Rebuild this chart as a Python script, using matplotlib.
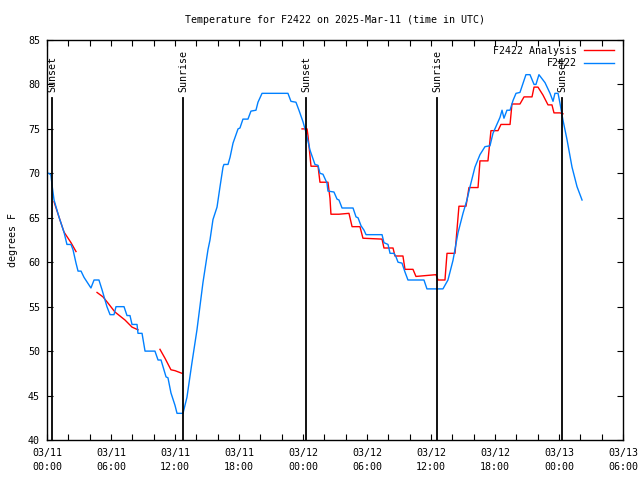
import numpy as np
import matplotlib
matplotlib.use('Agg')
import matplotlib.pyplot as plt
from matplotlib.ticker import MultipleLocator

# hours since 2025-03-11 00:00 UTC
obs_hours = [0.0, 0.19, 0.37, 0.47, 0.66, 1.12, 1.59, 1.87, 2.25, 2.44, 2.72, 2.91, 3.19, 3.47,
             4.12, 4.41, 4.87, 5.16, 5.62, 5.91, 6.28, 6.47, 7.22, 7.50, 7.78, 7.97, 8.44, 8.53,
             8.91, 9.19, 10.12, 10.41, 10.69, 11.16, 11.34, 11.62, 12.0, 12.19, 12.75, 13.12,
             13.59, 14.06, 14.62, 15.09, 15.28, 15.56, 15.94, 16.22, 16.5, 16.59, 16.97, 17.16,
             17.44, 17.91, 18.09, 18.37, 18.84, 19.12, 19.59, 19.78, 20.16, 22.59, 22.87, 23.34,
             23.62, 24.0, 24.28, 24.66, 25.12, 25.41, 25.59, 25.87, 26.25, 26.34, 26.9, 27.19,
             27.37, 27.66, 28.69, 28.97, 29.16, 29.44, 29.72, 29.91, 31.41, 31.59, 31.97, 32.16,
             32.53, 32.72, 32.91, 33.28, 33.56, 33.84, 35.34, 35.62, 37.12, 37.59, 38.06, 38.53,
             39.0, 39.37, 39.66, 40.12, 40.59, 41.06, 41.53, 41.81, 42.47, 42.66, 42.84, 43.12,
             43.41, 43.69, 43.97, 44.34, 44.9, 45.28, 45.66, 45.84, 46.12, 46.69, 47.16, 47.44,
             47.62, 47.91, 48.09, 48.37, 48.75, 49.22, 49.69, 50.16]
obs_temp = [70.0, 70.0, 69.8, 68.7, 67.0, 65.1, 63.4, 62.0, 62.0, 61.4, 59.9, 59.0, 59.0, 58.3,
            57.1, 58.0, 58.0, 56.9, 55.0, 54.1, 54.1, 55.0, 55.0, 54.0, 54.0, 53.0, 53.0, 52.0,
            52.0, 50.0, 50.0, 49.0, 49.0, 47.1, 47.0, 45.3, 43.9, 43.0, 43.0, 44.8,
            48.7, 52.4, 57.7, 61.4, 62.5, 64.8, 66.2, 68.5, 70.7, 71.0, 71.0, 71.8,
            73.4, 75.0, 75.1, 76.1, 76.1, 77.0, 77.1, 78.0, 79.0, 79.0, 78.1, 78.0,
            77.1, 75.8, 74.6, 72.6, 71.0, 70.9, 70.0, 69.9, 68.9, 68.0, 67.9, 67.1,
            67.0, 66.1, 66.1, 65.1, 65.0, 64.1, 63.6, 63.1, 63.1, 62.2, 62.0, 61.0,
            61.0, 60.6, 60.0, 59.9, 58.9, 58.0, 58.0, 57.0, 57.0, 58.0, 60.2, 63.3,
            65.5, 67.0, 68.5, 70.7, 72.1, 73.0, 73.1, 74.5, 76.3, 77.1, 76.2, 77.1,
            77.1, 78.2, 79.0, 79.1, 81.1, 81.1, 80.0, 80.0, 81.1, 80.2, 79.0, 78.1,
            79.0, 79.0, 77.9, 76.0, 73.8, 70.7, 68.5, 67.0]

# analysis series, nan = gap
ana_hours = [0.66, 1.12, 1.59, 2.25, 2.72, np.nan,
             4.69, 5.25, 5.72, 6.37, 7.31, 7.97, 8.53, np.nan,
             10.59, 11.06, 11.62, 12.0, 12.66, np.nan,
             23.91, 24.38, 24.47, 24.75, 25.41, 25.59, 26.34, 26.53, 26.62, 27.37, 28.31, 28.6,
             29.34, 29.62, 31.41, 31.59, 32.44, 32.62, 33.37, 33.56, 34.31, 34.59, 36.47, 36.66,
             37.31, 37.5, 38.25, 38.44, 38.62, 39.28, 39.56, 40.41, 40.59, 41.34, 41.62, 42.28,
             42.56, 43.41, 43.59, 44.34, 44.72, 45.47, 45.66, 46.03, 46.5, 46.97, 47.34, 47.53,
             48.09, 48.37]
ana_temp = [66.8, 65.1, 63.4, 62.2, 61.2, np.nan,
            56.6, 56.1, 55.4, 54.4, 53.5, 52.7, 52.4, np.nan,
            50.2, 49.2, 47.9, 47.8, 47.5, np.nan,
            75.0, 75.0, 74.2, 70.8, 70.8, 69.0, 69.0, 67.2, 65.4, 65.4, 65.5, 64.0,
            64.0, 62.7, 62.6, 61.6, 61.6, 60.7, 60.7, 59.2, 59.2, 58.4, 58.6, 58.0,
            58.0, 61.0, 61.0, 63.7, 66.3, 66.3, 68.4, 68.4, 71.4, 71.4, 74.8, 74.8,
            75.5, 75.5, 77.8, 77.8, 78.6, 78.6, 79.7, 79.7, 78.8, 77.7, 77.7, 76.8,
            76.8, 76.7]

sun_hours = [0.44, 12.72, 24.28, 36.59, 48.31]
sun_labels = ['Sunset', 'Sunrise', 'Sunset', 'Sunrise', 'Sunset']

tick_hours = [0, 6, 12, 18, 24, 30, 36, 42, 48, 54]
tick_labels = ['03/11\n00:00', '03/11\n06:00', '03/11\n12:00', '03/11\n18:00',
               '03/12\n00:00', '03/12\n06:00', '03/12\n12:00', '03/12\n18:00',
               '03/13\n00:00', '03/13\n06:00']

plt.rcParams['font.family'] = 'DejaVu Sans Mono'
plt.rcParams['font.size'] = 7.2

fig = plt.figure(figsize=(6.4, 4.8), dpi=100)
ax = fig.add_axes([47 / 640, 40 / 480, 576 / 640, 400 / 480])

ax.plot(ana_hours, ana_temp, color='#ff0000', lw=1.0, label='F2422 Analysis')
ax.plot(obs_hours, obs_temp, color='#0080ff', lw=1.0, label='F2422')

for h, lab in zip(sun_hours, sun_labels):
    ax.plot([h, h], [40, 78.5], color='black', lw=1.3)
    ax.text(h + 0.05, 79.2, lab, rotation=90, ha='center', va='bottom')

ax.set_xlim(0, 54)
ax.set_ylim(40, 85)
ax.set_xticks(tick_hours)
ax.set_xticklabels(tick_labels, linespacing=1.5)
ax.xaxis.set_minor_locator(MultipleLocator(2))
ax.yaxis.set_major_locator(MultipleLocator(5))
ax.tick_params(which='both', direction='in', top=True, right=True, length=4, width=0.8)
ax.tick_params(axis='x', pad=6)
ax.tick_params(axis='y', pad=5)
for s in ax.spines.values():
    s.set_linewidth(1.0)

ax.set_ylabel('degrees F', labelpad=7)
ax.set_title('Temperature for F2422 on 2025-Mar-11 (time in UTC)', fontsize=7.2, pad=12)

leg = ax.legend(loc='upper right', frameon=False, markerfirst=False, handlelength=3.0,
                borderaxespad=0.2, labelspacing=0.25, handletextpad=0.7,
                bbox_to_anchor=(0.995, 1.0))
for t in leg.get_texts():
    t.set_ha('right')

fig.savefig('out.png', dpi=100)
